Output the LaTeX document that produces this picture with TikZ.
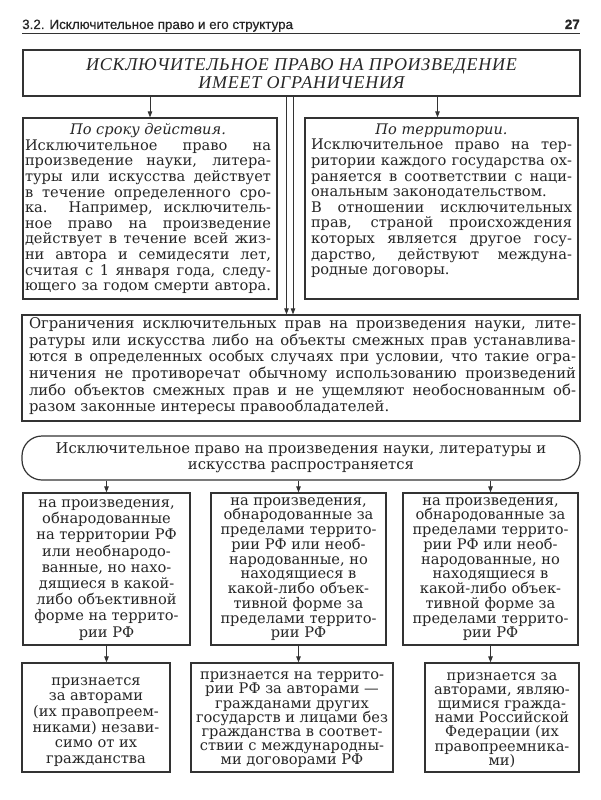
\documentclass[tikz,border=0pt]{standalone}
\usepackage{fontspec}
\setmainfont{DejaVu Serif}
\newfontfamily\ttlfont{Liberation Serif}[LetterSpace=4]
\newfontfamily\hdrfont{Liberation Sans}[FakeBold=0.5]
\usetikzlibrary{arrows.meta}
\definecolor{ink}{HTML}{262626}
\definecolor{edge}{HTML}{333333}
\newcommand\J[1]{\hbox to\hsize{#1}}
\newcommand\E[1]{\hbox to\hsize{#1\hfil}}
\newcommand\C[1]{\hbox to\hsize{\hfil#1\hfil}}
\newcommand\TB[2]{\vbox{\hsize=#1\relax\lineskiplimit=-20pt\relax#2}}
\lineskiplimit=-20pt
\begin{document}
\lineskiplimit=-20pt
\begin{tikzpicture}[x=1pt,y=-1pt,
  box/.style={draw=edge, line width=1.2pt, inner sep=0pt},
  arr/.style={draw=edge, line width=0.9pt, -{Triangle[length=6pt,width=4.5pt]}},
  body/.style={inner sep=0pt, text=ink},
]
\path[use as bounding box, fill=white] (0,0) rectangle (600,800);

% header
\node[anchor=base west, inner sep=0pt, text=ink, font=\hdrfont\fontsize{13.4}{14}\selectfont] (hd) at (22,29) {3.2. Исключительное право и его структура};
\node[anchor=base east, inner sep=0pt, text=ink, font=\hdrfont\bfseries\fontsize{13.5}{14}\selectfont] (pg) at (580,29) {27};
\draw[draw=edge, line width=1pt] (22,34) -- (580,34);

% boxes
\node[box, minimum width=557pt, minimum height=46pt] (tbox) at (301.5,73) {};
\node[box, minimum width=254pt, minimum height=181pt] (lbox) at (150,208.5) {};
\node[box, minimum width=273pt, minimum height=181pt] (rbox) at (441.5,208.5) {};
\node[box, minimum width=558pt, minimum height=106pt] (mbox) at (301,368) {};
\node[box, minimum width=558pt, minimum height=44pt, rounded corners=20pt] (rnd) at (301,458) {};
\node[box, minimum width=167pt, minimum height=152pt] (r3a) at (106.5,569) {};
\node[box, minimum width=175pt, minimum height=152pt] (r3b) at (298.5,569) {};
\node[box, minimum width=175pt, minimum height=152pt] (r3c) at (490.5,569) {};
\node[box, minimum width=148pt, minimum height=109pt] (r4a) at (96,717.5) {};
\node[box, minimum width=202pt, minimum height=109pt] (r4b) at (292,717.5) {};
\node[box, minimum width=154pt, minimum height=109pt] (r4c) at (502,717.5) {};

% title
\node[body, align=center, font=\ttlfont\itshape\fontsize{18}{18}\selectfont] (ttext) at (301.5,74) {ИСКЛЮЧИТЕЛЬНОЕ ПРАВО НА ПРОИЗВЕДЕНИЕ\\ИМЕЕТ ОГРАНИЧЕНИЯ};

% left text
\node[body, anchor=north, font=\fontsize{14.6}{15.6}\selectfont] (ltext) at (148,123.5) {\TB{246pt}{%
\C{\itshape По сроку действия.}%
\J{Исключительное право на}%
\J{произведение науки, литера-}%
\J{туры или искусства действует}%
\J{в течение определенного сро-}%
\J{ка. Например, исключитель-}%
\J{ное право на произведение}%
\J{действует в течение всей жиз-}%
\J{ни автора и семидесяти лет,}%
\J{считая с 1 января года, следу-}%
\J{ющего за годом смерти автора.}}};

% right text
\node[body, anchor=north, font=\fontsize{14.6}{15.6}\selectfont] (rtext) at (441.5,123.5) {\TB{261pt}{%
\C{\itshape По территории.}%
\J{Исключительное право на тер-}%
\J{ритории каждого государства ох-}%
\J{раняется в соответствии с наци-}%
\E{ональным законодательством.}%
\J{В отношении исключительных}%
\J{прав, страной происхождения}%
\J{которых является другое госу-}%
\J{дарство, действуют междуна-}%
\E{родные договоры.}}};

% middle text
\node[body, anchor=north, font=\fontsize{14.8}{16.6}\selectfont] (mtext) at (302.5,317.5) {\TB{547pt}{%
\J{Ограничения исключительных прав на произведения науки, лите-}%
\J{ратуры или искусства либо на объекты смежных прав устанавлива-}%
\J{ются в определенных особых случаях при условии, что такие огра-}%
\J{ничения не противоречат обычному использованию произведений}%
\J{либо объектов смежных прав и не ущемляют необоснованным об-}%
\E{разом законные интересы правообладателей.}}};

% rounded text
\node[body, align=center, font=\fontsize{14.8}{16}\selectfont] (rdtext) at (301,458) {Исключительное право на произведения науки, литературы и\\искусства распространяется};

% row 3
\node[body, align=center, font=\fontsize{14.6}{16.2}\selectfont] (t3a) at (106.5,570) {на произведения,\\обнародованные\\на территории РФ\\или необнародо-\\ванные, но нахо-\\дящиеся в какой-\\либо объективной\\форме на террито-\\рии РФ};
\node[body, align=center, font=\fontsize{14.6}{14.75}\selectfont] (t3b) at (298.5,569) {на произведения,\\обнародованные за\\пределами террито-\\рии РФ или необ-\\народованные, но\\находящиеся в\\какой-либо объек-\\тивной форме за\\пределами террито-\\рии РФ};
\node[body, align=center, font=\fontsize{14.6}{14.75}\selectfont] (t3c) at (490.5,569) {на произведения,\\обнародованные за\\пределами террито-\\рии РФ или необ-\\народованные, но\\находящиеся в\\какой-либо объек-\\тивной форме за\\пределами террито-\\рии РФ};

% row 4
\node[body, align=center, font=\fontsize{14.6}{15.6}\selectfont] (t4a) at (96,722) {признается\\за авторами\\(их правопреем-\\никами) незави-\\симо от их\\гражданства};
\node[body, align=center, font=\fontsize{14.6}{14.2}\selectfont] (t4b) at (292,720) {признается на террито-\\рии РФ за авторами —\\гражданами других\\государств и лицами без\\гражданства в соответ-\\ствии с международны-\\ми договорами РФ};
\node[body, align=center, font=\fontsize{14.6}{14.2}\selectfont] (t4c) at (502,720) {признается за\\авторами, являю-\\щимися гражда-\\нами Российской\\Федерации (их\\правопреемника-\\ми)};

% arrows
\draw[arr] (tbox.south -| lbox.north) -- (lbox.north);
\draw[arr] ([xshift=-4pt]tbox.south -| rbox.north) -- ([xshift=-4pt]rbox.north);
\draw[arr] ([xshift=-15pt]tbox.south) -- ([xshift=-15pt]tbox.south |- mbox.north);
\draw[arr] ([xshift=-8.5pt]tbox.south) -- ([xshift=-8.5pt]tbox.south |- mbox.north);
\draw[arr] (rnd.south -| r3a.north) -- (r3a.north);
\draw[arr] (rnd.south -| r3b.north) -- (r3b.north);
\draw[arr] (rnd.south -| r3c.north) -- (r3c.north);
\draw[arr] (r3a.south) -- (r3a.south |- r4a.north);
\draw[arr] (r3b.south) -- (r3b.south |- r4b.north);
\draw[arr] (r3c.south) -- (r3c.south |- r4c.north);
\end{tikzpicture}
\end{document}
